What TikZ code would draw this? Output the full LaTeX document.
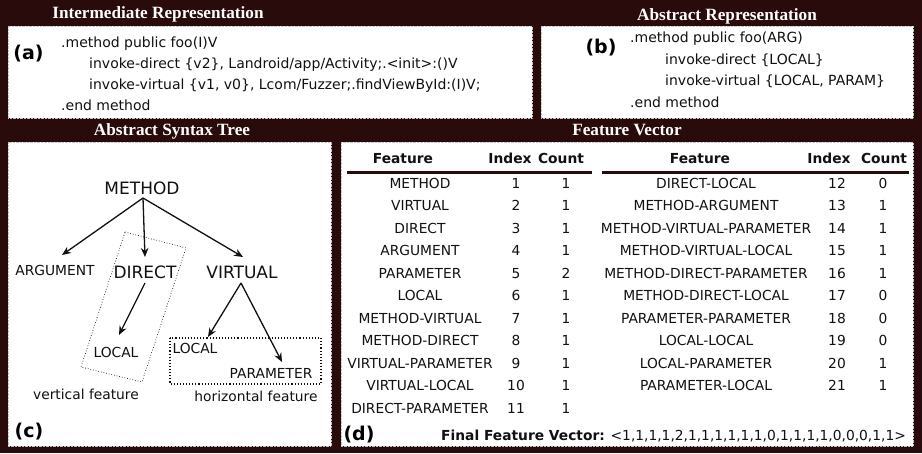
\documentclass[tikz,border=0pt]{standalone}
\usepackage{fontspec}
\setmainfont{DejaVu Sans}
\newfontfamily\titlefont{Liberation Serif}
\usetikzlibrary{arrows.meta,calc}
\definecolor{frame}{RGB}{42,11,11}
\definecolor{txt}{RGB}{17,17,17}
\tikzset{
  panel/.style={fill=white, draw=gray!45, densely dotted, line width=0.4pt},
  title/.style={text=white, inner sep=0pt, text height=11.4pt, text depth=0pt,
    font=\titlefont\bfseries\fontsize{17.2}{20}\selectfont},
  code/.style={anchor=base west, inner sep=0pt, text=txt, font=\fontsize{14}{16}\selectfont},
  cell/.style={inner sep=0pt, text height=10pt, text depth=0pt, text=txt,
    font=\fontsize{13.8}{16}\selectfont},
  hcell/.style={cell, font=\bfseries\fontsize{13.8}{16}\selectfont},
  big/.style={inner sep=0pt, text height=12.4pt, text depth=0pt, text=txt,
    font=\fontsize{17}{20}\selectfont},
  tag/.style={inner sep=0pt, text height=14pt, text depth=0pt, text=black,
    font=\bfseries\fontsize{19}{22}\selectfont},
  arr/.style={-{Stealth[length=9pt,width=7.5pt]}, line width=1.3pt, draw=txt},
  roi/.style={dotted, line width=0.7pt, draw=txt},
  roibold/.style={dotted, line width=1.1pt, draw=txt},
  rulebar/.style={line width=3pt, draw=frame},
}
\begin{document}
\begin{tikzpicture}[x=1pt,y=-1pt]
\useasboundingbox (0,0) rectangle (922,453);
\fill[frame] (0,0) rectangle (922,453);
% panels
\path[panel] (8,26) rectangle (532,118);
\path[panel] (541,26) rectangle (913,118);
\path[panel] (8,142) rectangle (331,446);
\path[panel] (341,142) rectangle (913,446);
% titles
\node[title] (ta) at (158,13) {Intermediate Representation};
\node[title] (tb) at (727,15) {Abstract Representation};
\node[title] (tc) at (172,130) {Abstract Syntax Tree};
\node[title] (td) at (627,130) {Feature Vector};
% (a)
\node[tag] (laba) at (28.5,52) {(a)};
\node[code] (a1) at (61,47.5) {.method public foo(I)V};
\node[code] (a2) at (89,68.5) {invoke-direct \{v2\}, Landroid/app/Activity;.<init>:()V};
\node[code] (a3) at (89,89.5) {invoke-virtual \{v1, v0\}, Lcom/Fuzzer;.findViewById:(I)V;};
\node[code] (a4) at (61,110.5) {.end method};
% (b)
\node[tag] (labb) at (601,46) {(b)};
\node[code] (b1) at (630,42.5) {.method public foo(ARG)};
\node[code] (b2) at (665,64) {invoke-direct \{LOCAL\}};
\node[code] (b3) at (665,85.5) {invoke-virtual \{LOCAL, PARAM\}};
\node[code] (b4) at (630,107) {.end method};
% (c) AST
\node[big] (method) at (142,188) {METHOD};
\node[cell] (argument) at (55,270) {ARGUMENT};
\node[big] (direct) at (145,272) {DIRECT};
\node[big] (virtual) at (242,272) {VIRTUAL};
\node[cell] (local1) at (116,352) {LOCAL};
\node[cell] (local2) at (195,348) {LOCAL};
\node[cell] (parameter) at (271,373) {PARAMETER};
\node[cell] (vf) at (86,394) {vertical feature};
\node[cell] (hf) at (256,396) {horizontal feature};
\node[tag] (labc) at (29,430) {(c)};
\draw[arr] ($(method.center)+(1,10)$) -- ($(argument.center)+(7,-15)$);
\draw[arr] ($(method.center)+(1,10)$) -- ($(direct.center)+(0,-15)$);
\draw[arr] ($(method.center)+(1,10)$) -- ($(virtual.center)+(1,-15)$);
\draw[arr] ($(direct.center)+(0,11)$) -- ($(local1.center)+(3,-17)$);
\draw[arr] ($(virtual.center)+(-1,11)$) -- ($(local2.center)+(13,-11)$);
\draw[arr] ($(virtual.center)+(-1,11)$) -- ($(parameter.center)+(11,-11)$);
\draw[roi] (125,232) -- (186,248) -- (142,382) -- (81,367) -- cycle;
\draw[roibold] (170,338) rectangle (321,384);
% (d) table
\node[hcell] (hfl) at (403,158) {Feature};
\node[hcell] (hil) at (510,158) {Index};
\node[hcell] (hcl) at (561,158) {Count};
\node[hcell] (hfr) at (700,158) {Feature};
\node[hcell] (hir) at (829,158) {Index};
\node[hcell] (hcr) at (884,158) {Count};
\draw[rulebar] (347,172) -- (592,172);
\draw[rulebar] (602,172) -- (909,172);
\foreach \f/\i/\c [count=\n from 0] in {METHOD/1/1, VIRTUAL/2/1, DIRECT/3/1, ARGUMENT/4/1,
  PARAMETER/5/2, LOCAL/6/1, METHOD-VIRTUAL/7/1, METHOD-DIRECT/8/1,
  VIRTUAL-PARAMETER/9/1, VIRTUAL-LOCAL/10/1, DIRECT-PARAMETER/11/1}{
  \node[cell] (lf\n) at (420,183+22.5*\n) {\f};
  \node[cell] (li\n) at (516,183+22.5*\n) {\i};
  \node[cell] (lc\n) at (566,183+22.5*\n) {\c};
}
\foreach \f/\i/\c [count=\n from 0] in {DIRECT-LOCAL/12/0, METHOD-ARGUMENT/13/1,
  METHOD-VIRTUAL-PARAMETER/14/1, METHOD-VIRTUAL-LOCAL/15/1, METHOD-DIRECT-PARAMETER/16/1,
  METHOD-DIRECT-LOCAL/17/0, PARAMETER-PARAMETER/18/0, LOCAL-LOCAL/19/0,
  LOCAL-PARAMETER/20/1, PARAMETER-LOCAL/21/1}{
  \node[cell] (rf\n) at (706,183+22.5*\n) {\f};
  \node[cell] (ri\n) at (837,183+22.5*\n) {\i};
  \node[cell] (rc\n) at (883,183+22.5*\n) {\c};
}
\node[tag] (labd) at (359,433) {(d)};
\node[cell, anchor=west] (fv) at (441,435) {\textbf{Final Feature Vector:} <1,1,1,1,2,1,1,1,1,1,1,0,1,1,1,1,0,0,0,1,1>};
\end{tikzpicture}
\end{document}
